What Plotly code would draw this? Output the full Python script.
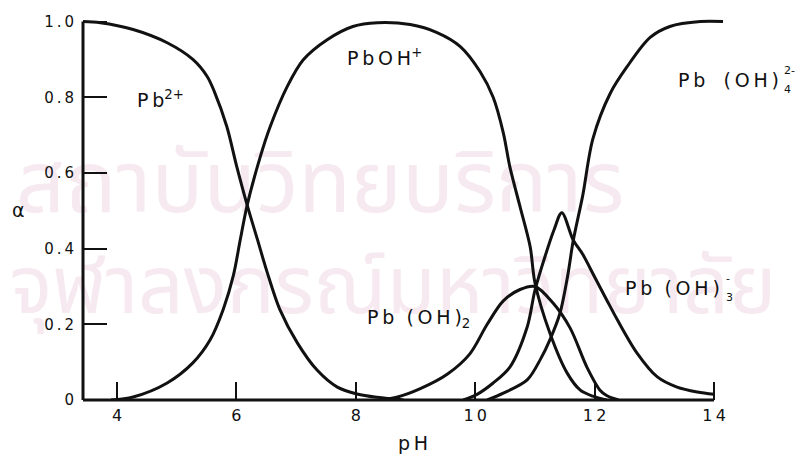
import plotly.graph_objects as go

# ---------------- data ----------------
pb2_ph = [3.43, 3.72, 4.27, 4.84, 5.27, 5.51, 5.63, 5.84, 6.0, 6.18, 6.35, 6.51, 6.73, 7.02, 7.35, 7.69, 8.02, 8.36, 8.8]
pb2_a = [1.0, 0.997, 0.979, 0.944, 0.90, 0.855, 0.815, 0.722, 0.62, 0.515, 0.425, 0.34, 0.238, 0.151, 0.079, 0.034, 0.016, 0.007, 0.0]

pboh_ph = [3.9, 4.27, 4.84, 5.27, 5.56, 5.78, 5.95, 6.06, 6.18, 6.40, 6.56, 6.85, 7.12, 7.52, 7.95, 8.36,
           8.91, 9.36, 9.75, 10.08, 10.30, 10.47, 10.58, 10.75, 10.92, 11.0, 11.25, 11.54, 11.76, 11.97, 12.2]
pboh_a = [0.0, 0.008, 0.045, 0.098, 0.159, 0.24, 0.33, 0.42, 0.515, 0.643, 0.72, 0.828, 0.899, 0.952, 0.987, 0.997,
          0.992, 0.971, 0.934, 0.868, 0.80, 0.706, 0.616, 0.511, 0.405, 0.31, 0.177, 0.071, 0.026, 0.01, 0.0]

pboh2_ph = [8.4, 8.7, 9.08, 9.53, 9.91, 10.2, 10.47, 10.75, 11.0, 11.3, 11.59, 11.87, 12.09, 12.2, 12.4]
pboh2_a = [0.0, 0.008, 0.03, 0.068, 0.122, 0.20, 0.262, 0.292, 0.30, 0.257, 0.19, 0.087, 0.026, 0.012, 0.0]

pboh3_ph = [9.8, 10.03, 10.3, 10.58, 10.87, 11.0, 11.17, 11.32, 11.45, 11.64, 11.8, 12.0, 12.2, 12.38,
            12.71, 13.05, 13.38, 13.72, 14.0]
pboh3_a = [0.0, 0.015, 0.045, 0.087, 0.193, 0.29, 0.38, 0.45, 0.495, 0.423, 0.385, 0.325, 0.265, 0.212,
           0.124, 0.061, 0.034, 0.021, 0.015]

pboh4_ph = [10.2, 10.47, 10.87, 11.1, 11.25, 11.42, 11.55, 11.64, 11.8, 11.97, 12.26, 12.54, 12.93, 13.26, 13.77, 14.15]
pboh4_a = [0.0, 0.018, 0.053, 0.11, 0.159, 0.23, 0.33, 0.42, 0.54, 0.69, 0.81, 0.88, 0.958, 0.987, 1.0, 1.0]

x_ticks = [4, 6, 8, 10, 12, 14]
x_ticktext = ["4", "6", "8", "10", "12", "14"]
y_ticks = [0, 0.2, 0.4, 0.6, 0.8, 1.0]
y_ticktext = ["0", "0.2", "0.4", "0.6", "0.8", "1.0"]

watermark_lines = ["สถาบันวิทยบริการ", "จุฬาลงกรณ์มหาวิทยาลัย"]

# ---------------- layout constants ----------------
W, H = 797, 455
ML, MR, MT, MB = 83, 71, 14, 55
XR = [3.43, 14.2]
YR = [0.0, 1.02]
FONT = "DejaVu Sans, Verdana, sans-serif"
INK = "#111111"
TS = "\u2009"  # thin space for wider lettering
NB = "\u00a0"


def spaced(s):
    return TS.join(list(s))


def px_to_paper(px, py):
    pw = W - ML - MR
    ph = H - MT - MB
    return (px - ML) / pw, (H - MB - py) / ph


def px_to_data(px, py):
    xp, yp = px_to_paper(px, py)
    return XR[0] + xp * (XR[1] - XR[0]), YR[0] + yp * (YR[1] - YR[0])


def to_paper_x(v):
    return (v - XR[0]) / (XR[1] - XR[0])


def to_paper_y(v):
    return (v - YR[0]) / (YR[1] - YR[0])


fig = go.Figure()

# ---------------- faint watermark (drawn first, below curves and tick labels) ----------------
wm_font = "Noto Sans Thai, Loma, Garuda, sans-serif"
for txt, (px, py), size in zip(watermark_lines, [(320, 190), (393, 293)], [86, 80]):
    wx, wy = px_to_data(px, py)
    fig.add_trace(go.Scatter(x=[wx], y=[wy], mode="text", text=[txt], textposition="middle center",
                             textfont=dict(family=wm_font, size=size, color="#f6e9f0"),
                             cliponaxis=False, hoverinfo="skip", showlegend=False))

series = [
    (pb2_ph, pb2_a, "Pb2+"),
    (pboh_ph, pboh_a, "PbOH+"),
    (pboh2_ph, pboh2_a, "Pb(OH)2"),
    (pboh3_ph, pboh3_a, "Pb(OH)3-"),
    (pboh4_ph, pboh4_a, "Pb(OH)4 2-"),
]
for xs, ys, name in series:
    fig.add_trace(go.Scatter(
        x=xs, y=ys, mode="lines", name=name,
        line=dict(color=INK, width=3, shape="spline", smoothing=0.9),
        hoverinfo="skip", showlegend=False,
    ))

# ---------------- axis lines (only up to 1.0 and 14) ----------------
fig.add_shape(type="line", xref="paper", yref="paper",
              x0=to_paper_x(XR[0]), x1=to_paper_x(XR[0]), y0=to_paper_y(0), y1=to_paper_y(1.0),
              line=dict(color=INK, width=3))
fig.add_shape(type="line", xref="paper", yref="paper",
              x0=to_paper_x(XR[0]), x1=to_paper_x(14.0), y0=to_paper_y(0), y1=to_paper_y(0),
              line=dict(color=INK, width=3))

# ---------------- labels ----------------
lab_font = dict(family=FONT, size=19, color=INK)
sm_font = dict(family=FONT, size=11, color=INK)


def label(px, py, text, font, xanchor="left"):
    xp, yp = px_to_paper(px, py)
    fig.add_annotation(x=xp, y=yp, xref="paper", yref="paper", showarrow=False,
                       xanchor=xanchor, yanchor="middle", text=text, font=font)


label(135, 99, spaced("Pb") + "<sup>2+</sup>", lab_font)
label(345, 57, spaced("PbOH") + "<sup>+</sup>", lab_font)
label(365, 318, spaced("Pb") + NB * 2 + spaced("(OH)") + "<sub>2</sub>", lab_font)

# Pb(OH)3-  with stacked sub/sup
label(722, 288, spaced("Pb") + NB * 2 + spaced("(OH)"), lab_font, xanchor="right")
label(724, 278, "-", sm_font)
label(724, 297, "3", sm_font)

# Pb(OH)4 2- with stacked sub/sup
label(781, 80, spaced("Pb") + NB * 3 + spaced("(OH)"), lab_font, xanchor="right")
label(782, 71, "2-", sm_font)
label(782, 89, "4", sm_font)

# axis titles
label(18, 210, "α", dict(family=FONT, size=19, color=INK), xanchor="center")
label(413, 443, spaced("pH"), dict(family=FONT, size=19, color=INK), xanchor="center")

fig.update_layout(
    width=W, height=H,
    margin=dict(l=ML, r=MR, t=MT, b=MB, pad=0, autoexpand=False),
    paper_bgcolor="white", plot_bgcolor="white",
    showlegend=False,
)
fig.update_xaxes(range=XR, showgrid=False, zeroline=False, showline=False,
                 ticks="inside", ticklen=18, tickwidth=2, tickcolor=INK,
                 tickvals=x_ticks, ticktext=[spaced(t) for t in x_ticktext],
                 tickfont=dict(family=FONT, size=16, color=INK), ticklabelstandoff=4,
                 automargin=False, fixedrange=True)
fig.update_yaxes(range=YR, showgrid=False, zeroline=False, showline=False,
                 ticks="inside", ticklen=24, tickwidth=2, tickcolor=INK,
                 tickvals=y_ticks, ticktext=[spaced(t) for t in y_ticktext],
                 tickfont=dict(family=FONT, size=15, color=INK), ticklabelstandoff=8,
                 automargin=False, fixedrange=True)

fig.write_html("out.html")
